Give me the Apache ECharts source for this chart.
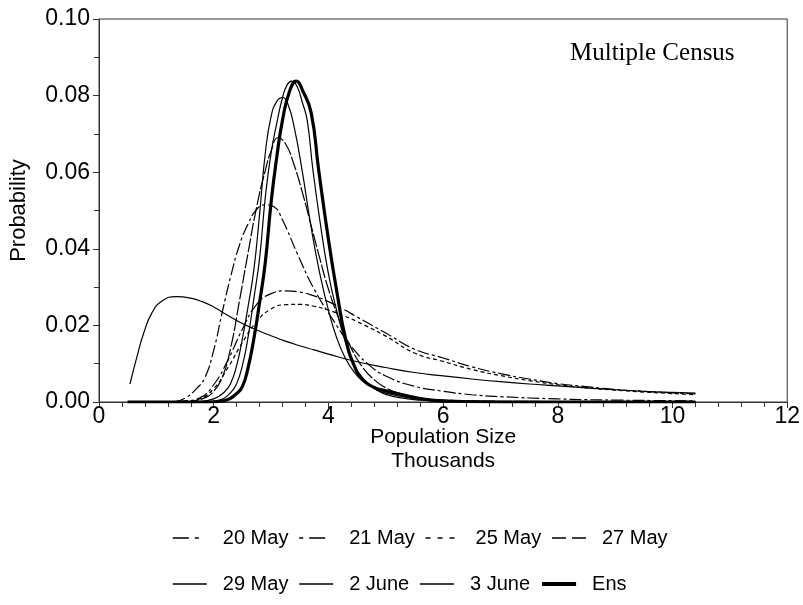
<!DOCTYPE html>
<html>
<head>
<meta charset="utf-8">
<script src="https://cdn.jsdelivr.net/npm/echarts@6/dist/echarts.min.js"></script>
<style>
html,body{margin:0;padding:0;background:#fff;}
#chart{width:803px;height:605px;}
</style>
</head>
<body>
<div id="chart"></div>
<script>
// Series data: [population size (thousands), probability]
const may20 = [[1.3,0],[1.5,0.001],[1.7,0.0035],[1.85,0.0065],[2.0,0.0135],[2.15,0.0235],[2.3,0.033],[2.45,0.041],[2.6,0.0465],[2.75,0.0503],[2.9,0.0515],[3.05,0.051],[3.2,0.0475],[3.45,0.039],[3.75,0.0295],[4.1,0.021],[4.4,0.0145],[4.7,0.0098],[5.0,0.0068],[5.5,0.0041],[6.0,0.0028],[6.5,0.0019],[7.0,0.0014],[8.0,0.0008],[9.0,0.0005],[10.4,0.0003]];
const may21 = [[0.5,0],[1.0,0],[1.5,0.0003],[1.75,0.001],[2.0,0.0045],[2.25,0.011],[2.5,0.019],[2.75,0.0255],[3.0,0.0283],[3.25,0.029],[3.5,0.0287],[3.75,0.0277],[4.0,0.0262],[4.25,0.0243],[4.5,0.0222],[5.0,0.018],[5.5,0.0138],[6.0,0.0115],[6.5,0.0092],[7.0,0.0074],[7.5,0.006],[8.0,0.0048],[8.5,0.004],[9.0,0.0033],[9.5,0.0028],[10.0,0.0024],[10.4,0.0021]];
const may25 = [[0.5,0],[1.0,0],[1.5,0.0002],[1.75,0.0008],[2.0,0.0035],[2.25,0.009],[2.5,0.0155],[2.75,0.021],[3.0,0.0243],[3.25,0.0254],[3.5,0.0255],[3.75,0.025],[4.0,0.024],[4.25,0.0226],[4.5,0.021],[5.0,0.0172],[5.5,0.0128],[6.0,0.0106],[6.5,0.0085],[7.0,0.0069],[7.5,0.0056],[8.0,0.0045],[8.5,0.0037],[9.0,0.0031],[9.5,0.0026],[10.0,0.0022],[10.4,0.0019]];
const may27 = [[1.5,0],[1.8,0.0008],[2.0,0.0028],[2.15,0.0065],[2.3,0.0144],[2.45,0.0265],[2.6,0.039],[2.75,0.051],[2.9,0.0605],[3.0,0.0655],[3.12,0.069],[3.25,0.0675],[3.4,0.062],[3.55,0.0545],[3.7,0.046],[3.85,0.0375],[4.0,0.0295],[4.2,0.021],[4.4,0.014],[4.6,0.009],[4.8,0.0058],[5.0,0.0037],[5.3,0.002],[5.6,0.001],[6.0,0.0005],[7.0,0.0002],[10.4,0]];
const may29 = [[0.54,0.0047],[0.66,0.0117],[0.78,0.018],[0.92,0.0232],[1.1,0.0264],[1.35,0.0275],[1.6,0.0271],[1.8,0.0262],[2.0,0.0248],[2.25,0.0226],[2.5,0.0205],[2.75,0.0188],[3.0,0.0173],[3.25,0.0159],[3.5,0.0147],[3.75,0.0136],[4.0,0.0125],[4.5,0.0105],[5.0,0.009],[5.5,0.0077],[6.0,0.0068],[6.5,0.006],[7.0,0.0053],[7.5,0.0047],[8.0,0.0042],[8.5,0.0037],[9.0,0.0032],[9.5,0.0028],[10.0,0.0025],[10.4,0.0023]];
const june2 = [[1.7,0],[2.0,0.0008],[2.2,0.0028],[2.3,0.005],[2.4,0.0095],[2.5,0.0165],[2.6,0.025],[2.7,0.0345],[2.8,0.049],[2.9,0.065],[3.0,0.0745],[3.1,0.0785],[3.2,0.0795],[3.3,0.0775],[3.4,0.072],[3.54,0.0606],[3.7,0.0455],[3.85,0.0335],[4.0,0.024],[4.15,0.0165],[4.3,0.0113],[4.45,0.0078],[4.6,0.0054],[4.8,0.0035],[5.0,0.0023],[5.5,0.0009],[6.0,0.0004],[7.0,0.0001],[10.4,0]];
const june3 = [[1.8,0],[2.1,0.0005],[2.3,0.0025],[2.4,0.0048],[2.5,0.0095],[2.6,0.017],[2.7,0.027],[2.8,0.0375],[2.9,0.0535],[3.0,0.065],[3.1,0.0728],[3.2,0.0795],[3.28,0.0828],[3.36,0.0838],[3.45,0.0825],[3.55,0.078],[3.63,0.0736],[3.73,0.0606],[3.85,0.0475],[4.0,0.0335],[4.15,0.0235],[4.3,0.0155],[4.45,0.0098],[4.6,0.0062],[4.8,0.0036],[5.0,0.002],[5.3,0.001],[5.6,0.0005],[6.0,0.0002],[7.0,0],[10.4,0]];
const ens = [[0.5,0],[1.9,0],[2.2,0.0004],[2.4,0.0022],[2.5,0.004],[2.6,0.009],[2.7,0.0165],[2.8,0.026],[2.9,0.0365],[3.0,0.052],[3.1,0.064],[3.2,0.0736],[3.32,0.081],[3.44,0.0838],[3.56,0.081],[3.7,0.0755],[3.83,0.0606],[4.0,0.0425],[4.15,0.0285],[4.3,0.0165],[4.45,0.0095],[4.6,0.0058],[4.8,0.0038],[5.0,0.0029],[5.2,0.0022],[5.5,0.0012],[5.8,0.0005],[6.2,0.0002],[7.0,0],[10.4,0]];

const seriesNames = ['20 May','21 May','25 May','27 May','29 May','2 June','3 June','Ens'];
const seriesData = [may20, may21, may25, may27, may29, june2, june3, ens];
const dashTypes = [[12,3,3,3],[3,3,12,3],[4,3],[14,2],'solid','solid','solid','solid'];
const legendDash = [[16,6,4,8],[4,6,16,8],[5,7],[14,6],'solid','solid','solid','solid'];
const lineWidths = [1.2,1.2,1.2,1.2,1.2,1.2,1.2,3.2];

const xTicks = [0,2,4,6,8,10,12];
const yTicks = [0.00,0.02,0.04,0.06,0.08,0.10];

const chart = echarts.init(document.getElementById('chart'), null, {renderer:'canvas'});
const FONT = 'Liberation Sans, Arial, sans-serif';

const series = seriesNames.map((n,i)=>({
  name:n, type:'line', data:seriesData[i], smooth:0.5,
  showSymbol:false, symbol:'none', animation:false,
  lineStyle:{color:'#000', width:lineWidths[i], type:dashTypes[i]},
  itemStyle:{color:'#000'}
}));

const legendItems = seriesNames.map((n,i)=>({
  name:n,
  lineStyle:{color:'#000', width:i===7?4:1.6, type:legendDash[i]}
}));

const legendCommon = {
  orient:'horizontal', itemWidth:34, itemHeight:12, itemGap:10,
  itemStyle:{opacity:0, borderWidth:0},
  textStyle:{fontFamily:FONT, fontSize:20, color:'#000', padding:[0,0,0,11]},
  selectedMode:false
};

chart.setOption({
  animation:false,
  color:['#000'],
  grid:{left:97, right:11, top:19, bottom:203, show:true, borderColor:'#333', borderWidth:1},
  xAxis:{
    type:'value', min:0, max:12, interval:2,
    axisLine:{show:true, lineStyle:{color:'#333'}},
    axisTick:{show:true, inside:false, length:6, lineStyle:{color:'#333'}},
    minorTick:{show:true, splitNumber:5, length:5, lineStyle:{color:'#333'}},
    splitLine:{show:false},
    axisLabel:{fontFamily:FONT, fontSize:23, color:'#000', margin:3, formatter:v=>xTicks.includes(v)?String(v):''},
    name:'Population Size\nThousands', nameLocation:'middle', nameGap:23, nameMoveOverlap:false,
    nameTextStyle:{fontFamily:FONT, fontSize:21, color:'#000', lineHeight:24, verticalAlign:'top'}
  },
  yAxis:{
    type:'value', min:0, max:0.1, interval:0.02,
    axisLine:{show:true, lineStyle:{color:'#333'}},
    axisTick:{show:true, inside:false, length:6, lineStyle:{color:'#333'}},
    minorTick:{show:true, splitNumber:2, length:5, lineStyle:{color:'#333'}},
    splitLine:{show:false},
    axisLabel:{fontFamily:FONT, fontSize:23, color:'#000', margin:9, formatter:v=>v.toFixed(2)},
    name:'Probability', nameLocation:'middle', nameGap:69, nameRotate:90, nameMoveOverlap:false,
    nameTextStyle:{fontFamily:FONT, fontSize:22, color:'#000'}
  },
  legend:[
    Object.assign({}, legendCommon, {left:167, top:523, data:legendItems.slice(0,4)}),
    Object.assign({}, legendCommon, {left:167, top:569, data:legendItems.slice(4)})
  ],
  graphic:[{type:'text', left:570, top:41, style:{text:'Multiple Census', font:'25px "Liberation Serif", "Times New Roman", serif', fill:'#000'}}],
  series:series
});
</script>
</body>
</html>
